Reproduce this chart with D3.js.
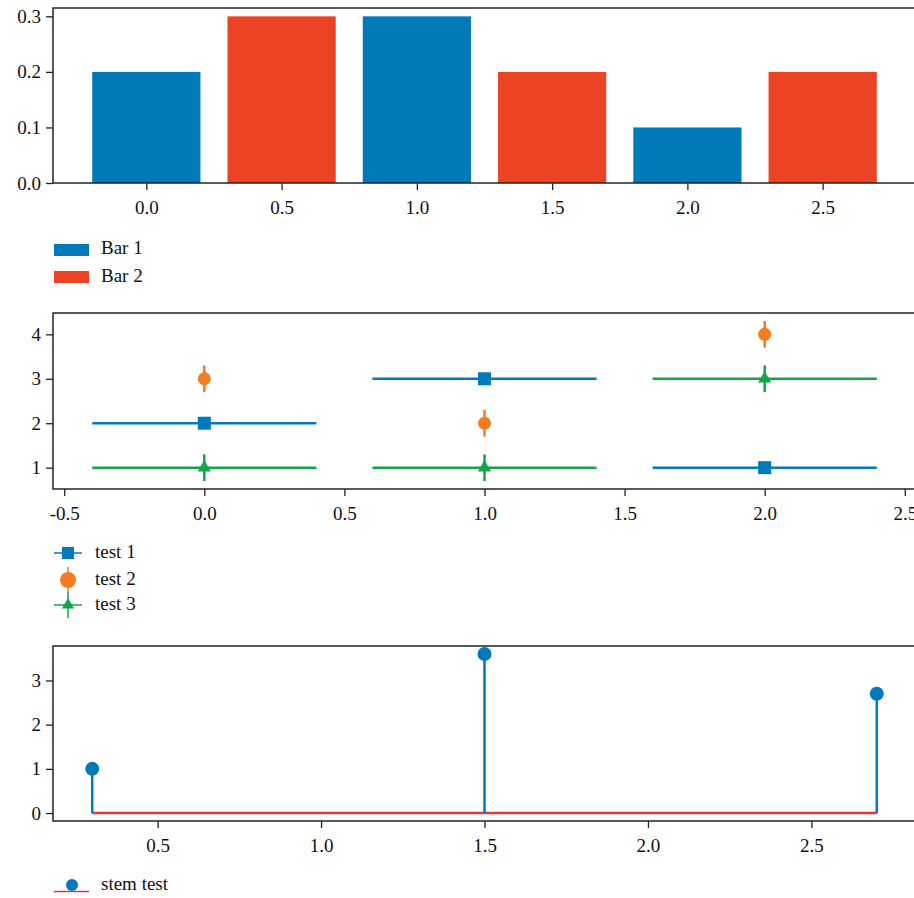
<!DOCTYPE html>
<html>
<head>
<meta charset="utf-8">
<script src="https://cdn.jsdelivr.net/npm/d3@7"></script>
<style>
  body { margin: 0; background: #fff; }
  svg text { font-family: "Liberation Serif", "DejaVu Serif", serif; font-size: 19px; fill: #111; }
</style>
</head>
<body>
<svg id="chart" width="914" height="898"></svg>
<script>
// panel 1 : bars
const barX1 = [0.0, 1.0, 2.0];
const barY1 = [0.2, 0.3, 0.1];
const barX2 = [0.5, 1.5, 2.5];
const barY2 = [0.3, 0.2, 0.2];
const barWidth = 0.4;
const barTicksX = [0.0, 0.5, 1.0, 1.5, 2.0, 2.5];
const barTicksY = [0.0, 0.1, 0.2, 0.3];

// panel 2 : error bars
const errX = [0, 1, 2];
const test1Y = [2, 3, 1];
const test2Y = [3, 2, 4];
const test3Y = [1, 1, 3];
const xErr = 0.4;
const yErr = 0.3;
const errTicksX = [-0.5, 0.0, 0.5, 1.0, 1.5, 2.0, 2.5];
const errTicksY = [1, 2, 3, 4];

// panel 3 : stem
const stemX = [0.3, 1.5, 2.7];
const stemY = [1.0, 3.6, 2.7];
const stemTicksX = [0.5, 1.0, 1.5, 2.0, 2.5];
const stemTicksY = [0, 1, 2, 3];

const blue = "#027ab9", red = "#ec4324", orange = "#f47c20", green = "#12a64a", stemRed = "#e0393b";

const svg = d3.select("#chart");
const left = 53, right = 916;

function pad(lo, hi) { let m = (hi - lo) * 0.05; return [lo - m, hi + m]; }
// plain hyphen instead of the unicode minus d3 uses
const f1 = d => d3.format(".1f")(d).replace("\u2212", "-");
const fi = d => d3.format("d")(d).replace("\u2212", "-");

function drawAxes(g, x, y, top, bottom, tx, ty, fx, fy) {
  g.append("g").attr("transform", `translate(0,${bottom})`)
    .call(d3.axisBottom(x).tickValues(tx).tickFormat(fx).tickSize(7).tickPadding(11).tickSizeOuter(0))
    .call(a => a.select(".domain").remove());
  g.append("g").attr("transform", `translate(${left},0)`)
    .call(d3.axisLeft(y).tickValues(ty).tickFormat(fy).tickSize(7).tickPadding(5).tickSizeOuter(0))
    .call(a => a.select(".domain").remove());
  g.selectAll(".tick line").attr("stroke", "#222").attr("stroke-width", 1.3);
  g.selectAll(".tick text").attr("fill", "#111");
  g.append("rect").attr("x", left).attr("y", top).attr("width", right - left).attr("height", bottom - top)
    .attr("fill", "none").attr("stroke", "#222").attr("stroke-width", 1.5);
}

// ---------- panel 1
{
  const top = 8, bottom = 183;
  const x = d3.scaleLinear().domain(pad(-0.2, 2.7)).range([left, right]);
  const y = d3.scaleLinear().domain([0, 0.315]).range([bottom, top]);
  const g = svg.append("g");
  const bw = x(barWidth) - x(0);
  g.selectAll("rect.b1").data(barX1.map((d, i) => [d, barY1[i]])).join("rect")
    .attr("x", d => x(d[0]) - bw / 2).attr("width", bw)
    .attr("y", d => y(d[1])).attr("height", d => y(0) - y(d[1])).attr("fill", blue);
  g.selectAll("rect.b2").data(barX2.map((d, i) => [d, barY2[i]])).join("rect")
    .attr("x", d => x(d[0]) - bw / 2).attr("width", bw)
    .attr("y", d => y(d[1])).attr("height", d => y(0) - y(d[1])).attr("fill", red);
  drawAxes(g, x, y, top, bottom, barTicksX, barTicksY, f1, f1);

  const leg = svg.append("g");
  [["Bar 1", blue], ["Bar 2", red]].forEach((d, i) => {
    leg.append("rect").attr("x", 54).attr("y", 244 + i * 27).attr("width", 35).attr("height", 12).attr("fill", d[1]);
    leg.append("text").attr("x", 101).attr("y", 254 + i * 28).text(d[0]);
  });
}

// ---------- panel 2
function marker(g, type, cx, cy, color, s) {
  if (type === "square") {
    g.append("rect").attr("x", cx - s / 2).attr("y", cy - s / 2).attr("width", s).attr("height", s).attr("fill", color);
  } else if (type === "circle") {
    g.append("circle").attr("cx", cx).attr("cy", cy).attr("r", s / 2).attr("fill", color);
  } else {
    g.append("path").attr("d", d3.symbol(d3.symbolTriangle, s * s * 0.45)()).attr("transform", `translate(${cx},${cy})`).attr("fill", color);
  }
}
{
  const top = 313, bottom = 489;
  const x = d3.scaleLinear().domain(pad(-0.4, 2.4)).range([left, right]);
  const y = d3.scaleLinear().domain(pad(0.7, 4.3)).range([bottom, top]);
  const g = svg.append("g");
  const series = [
    { ys: test1Y, color: blue, type: "square", xe: xErr, ye: 0 },
    { ys: test2Y, color: orange, type: "circle", xe: 0, ye: yErr },
    { ys: test3Y, color: green, type: "triangle", xe: xErr, ye: yErr }
  ];
  series.forEach(s => {
    errX.forEach((xv, i) => {
      const yv = s.ys[i];
      if (s.xe) g.append("line").attr("x1", x(xv - s.xe)).attr("x2", x(xv + s.xe)).attr("y1", y(yv)).attr("y2", y(yv))
        .attr("stroke", s.color).attr("stroke-width", 2.5);
      if (s.ye) g.append("line").attr("x1", x(xv)).attr("x2", x(xv)).attr("y1", y(yv - s.ye)).attr("y2", y(yv + s.ye))
        .attr("stroke", s.color).attr("stroke-width", 2.5);
      marker(g, s.type, x(xv), y(yv), s.color, 13);
    });
  });
  drawAxes(g, x, y, top, bottom, errTicksX, errTicksY, f1, fi);

  const leg = svg.append("g");
  const names = ["test 1", "test 2", "test 3"];
  [553, 580, 605].forEach((cy, i) => {
    const s = series[i];
    if (s.xe) leg.append("line").attr("x1", 54).attr("x2", 82).attr("y1", cy).attr("y2", cy).attr("stroke", s.color).attr("stroke-width", 1.5);
    if (s.ye) leg.append("line").attr("x1", 68).attr("x2", 68).attr("y1", cy - 13).attr("y2", cy + 13).attr("stroke", s.color).attr("stroke-width", 1.5);
    marker(leg, s.type, 68, cy, s.color, i === 1 ? 16 : 12);
    leg.append("text").attr("x", 95).attr("y", [558, 585, 610][i]).text(names[i]);
  });
}

// ---------- panel 3
{
  const top = 646, bottom = 821;
  const x = d3.scaleLinear().domain(pad(0.3, 2.7)).range([left, right]);
  const y = d3.scaleLinear().domain(pad(0, 3.6)).range([bottom, top]);
  const g = svg.append("g");
  g.append("line").attr("x1", x(d3.min(stemX))).attr("x2", x(d3.max(stemX))).attr("y1", y(0)).attr("y2", y(0))
    .attr("stroke", stemRed).attr("stroke-width", 2.5);
  g.selectAll("line.stem").data(stemX.map((d, i) => [d, stemY[i]])).join("line")
    .attr("x1", d => x(d[0])).attr("x2", d => x(d[0])).attr("y1", y(0)).attr("y2", d => y(d[1]))
    .attr("stroke", blue).attr("stroke-width", 2.5);
  g.selectAll("circle.head").data(stemX.map((d, i) => [d, stemY[i]])).join("circle")
    .attr("cx", d => x(d[0])).attr("cy", d => y(d[1])).attr("r", 7).attr("fill", blue);
  drawAxes(g, x, y, top, bottom, stemTicksX, stemTicksY, f1, fi);

  const leg = svg.append("g");
  leg.append("line").attr("x1", 54).attr("x2", 89).attr("y1", 891.5).attr("y2", 891.5).attr("stroke", stemRed).attr("stroke-width", 1.5);
  leg.append("circle").attr("cx", 72).attr("cy", 885).attr("r", 6).attr("fill", blue);
  leg.append("text").attr("x", 101).attr("y", 890).text("stem test");
}
</script>
</body>
</html>
